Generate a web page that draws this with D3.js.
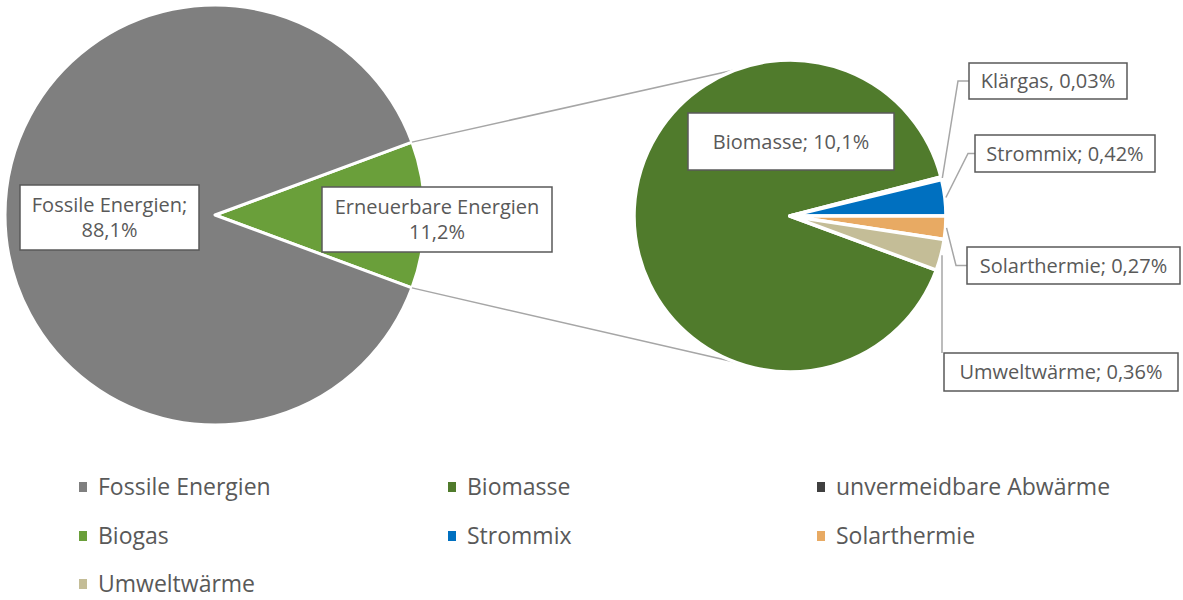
<!DOCTYPE html>
<html lang="de">
<head>
<meta charset="utf-8">
<title></title>
<script src="https://d3js.org/d3.v7.min.js"></script>
<style>
body { margin: 0; background: #fff; }
text { font-family: "Open Sans", Lato, sans-serif; fill: #595959; }
.box { fill: #fff; stroke: #595959; stroke-width: 1.5px; }
.conn { stroke: #a6a6a6; stroke-width: 1.5px; fill: none; }
</style>
</head>
<body>
<svg width="1183" height="600"></svg>
<script>
// primary pie
var mainCats = ["Erneuerbare Energien", "Fossile Energien"];
var mainVals = [11.2, 88.1];
var mainLabels = [["Erneuerbare Energien", "11,2%"], ["Fossile Energien;", "88,1%"]];

// secondary pie (breakdown of Erneuerbare)
var subCats = ["Biomasse", "Klärgas", "Strommix", "Solarthermie", "Umweltwärme"];
var subVals = [10.1, 0.03, 0.42, 0.27, 0.36];
var subLabels = ["Biomasse; 10,1%", "Klärgas, 0,03%", "Strommix; 0,42%", "Solarthermie; 0,27%", "Umweltwärme; 0,36%"];

// legend
var legendCats = ["Fossile Energien", "Biomasse", "unvermeidbare Abwärme", "Biogas", "Strommix", "Solarthermie", "Umweltwärme"];

var color = d3.scaleOrdinal()
    .domain(["Fossile Energien", "Biomasse", "unvermeidbare Abwärme", "Biogas", "Strommix", "Solarthermie", "Umweltwärme", "Erneuerbare Energien", "Klärgas"])
    .range(["#7f7f7f", "#507b2c", "#404040", "#6a9f3a", "#0070c0", "#e8aa63", "#c4bd97", "#6a9f3a", "#507b2c"]);

var svg = d3.select("svg");

var c1 = {x: 215, y: 215, r: 210};
var c2 = {x: 790, y: 216, r: 156};

// --- primary pie, renewable slice centred on 3 o'clock
var total1 = d3.sum(mainVals);
var aE = mainVals[0] / total1 * 2 * Math.PI;
var start1 = Math.PI / 2 - aE / 2;
var pie1 = d3.pie().sort(null).startAngle(start1).endAngle(start1 + 2 * Math.PI);
var arcs1 = pie1(mainVals);
var arc1 = d3.arc().innerRadius(0).outerRadius(c1.r);

var g1 = svg.append("g").attr("transform", `translate(${c1.x},${c1.y})`);
g1.selectAll("path").data(arcs1).join("path")
    .attr("d", arc1)
    .attr("fill", (d, i) => color(mainCats[i]))
    .attr("stroke", "#fff")
    .attr("stroke-width", 3)
    .attr("stroke-linejoin", "round");

// --- secondary pie: small slices around 3 o'clock, Biomasse the rest
var total2 = d3.sum(subVals);
var k = 2 * Math.PI / total2;
var start2 = Math.PI / 2 + (subVals[3] + subVals[4]) * k;
var pie2 = d3.pie().sort(null).startAngle(start2).endAngle(start2 + 2 * Math.PI);
var arcs2 = pie2(subVals);
var arc2 = d3.arc().innerRadius(0).outerRadius(c2.r);

var pt = (c, a, r) => [c.x + r * Math.sin(a), c.y - r * Math.cos(a)];

// connector lines between the pies
var connA = 20 * Math.PI / 180;
var conns = [
  [pt(c1, start1, c1.r), pt(c2, -connA, c2.r)],
  [pt(c1, start1 + aE, c1.r), pt(c2, Math.PI + connA, c2.r)]
];
svg.selectAll("line.conn").data(conns).join("line")
    .attr("class", "conn")
    .attr("x1", d => d[0][0]).attr("y1", d => d[0][1])
    .attr("x2", d => d[1][0]).attr("y2", d => d[1][1]);

var g2 = svg.append("g").attr("transform", `translate(${c2.x},${c2.y})`);
g2.selectAll("path").data(arcs2).join("path")
    .attr("d", arc2)
    .attr("fill", (d, i) => color(subCats[i]))
    .attr("stroke", "#fff")
    .attr("stroke-width", 3.5)
    .attr("stroke-linejoin", "round");

// --- label boxes
function box(x, y, w, h, lines, fs) {
  svg.append("rect").attr("class", "box")
      .attr("x", x).attr("y", y).attr("width", w).attr("height", h);
  var lh = fs * 1.25;
  var t = svg.append("text")
      .attr("text-anchor", "middle")
      .attr("font-size", fs);
  lines.forEach((s, i) => {
    t.append("tspan")
        .attr("x", x + w / 2)
        .attr("y", y + h / 2 + (i - (lines.length - 1) / 2) * lh)
        .attr("dy", "0.35em")
        .text(s);
  });
}

var fs = 20;
box(20, 185, 179, 65, mainLabels[1], fs);
box(322, 187, 230, 65, mainLabels[0], fs);
box(688, 113, 206, 57, [subLabels[0]], fs);

// leader lines for the small slices
var mid = d => (d.startAngle + d.endAngle) / 2;
var smallBoxes = [
  null,
  {x: 969, y: 63, w: 158, h: 36, elbow: [958, 81]},
  {x: 975, y: 135, w: 180, h: 37, elbow: [968, 153]},
  {x: 967, y: 247, w: 213, h: 37, elbow: [956, 265]},
  {x: 944, y: 353, w: 234, h: 38, elbow: null}
];
arcs2.forEach((d, i) => {
  var b = smallBoxes[i];
  if (!b) return;
  var p0 = pt(c2, mid(d), c2.r + 1);
  var pts;
  if (b.elbow) pts = [p0, [b.elbow[0], b.y + b.h / 2], [b.x, b.y + b.h / 2]];
  else pts = [p0, [p0[0], b.y]];
  svg.append("path").attr("class", "conn")
      .attr("d", d3.line()(pts));
  box(b.x, b.y, b.w, b.h, [subLabels[i]], fs);
});

// --- legend
var lg = svg.append("g");
var colX = [79, 448, 817], rowY = [487, 536, 584];
legendCats.forEach((c, i) => {
  var x = colX[i % 3], y = rowY[Math.floor(i / 3)];
  lg.append("rect").attr("x", x).attr("y", y - 5).attr("width", 8).attr("height", 10)
      .attr("fill", color(c));
  lg.append("text").attr("x", x + 19).attr("y", y).attr("dy", "0.35em")
      .attr("font-size", 23).text(c);
});
</script>
</body>
</html>
